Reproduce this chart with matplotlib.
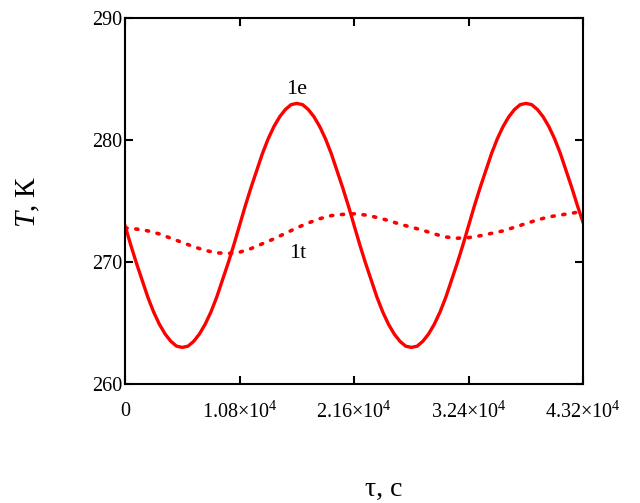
import matplotlib
matplotlib.use('Agg')
import matplotlib.pyplot as plt

plt.rcParams['font.family'] = ['Liberation Serif', 'DejaVu Serif']
plt.rcParams['mathtext.fontset'] = 'custom'
plt.rcParams['mathtext.rm'] = 'Liberation Serif'
plt.rcParams['mathtext.it'] = 'Liberation Serif:italic'

# curve 1e (solid), time step 540 s, K
tau_1e = [i * 540 for i in range(81)]
t_1e = [273.0, 271.4, 269.9, 268.5, 267.1, 265.9, 264.9, 264.1, 263.5, 263.1,
        263.0, 263.1, 263.5, 264.1, 264.9, 265.9, 267.1, 268.5, 269.9, 271.4,
        273.0, 274.6, 276.1, 277.5, 278.9, 280.1, 281.1, 281.9, 282.5, 282.9,
        283.0, 282.9, 282.5, 281.9, 281.1, 280.1, 278.9, 277.5, 276.1, 274.6,
        273.0, 271.4, 269.9, 268.5, 267.1, 265.9, 264.9, 264.1, 263.5, 263.1,
        263.0, 263.1, 263.5, 264.1, 264.9, 265.9, 267.1, 268.5, 269.9, 271.4,
        273.0, 274.6, 276.1, 277.5, 278.9, 280.1, 281.1, 281.9, 282.5, 282.9,
        283.0, 282.9, 282.5, 281.9, 281.1, 280.1, 278.9, 277.5, 276.1, 274.6,
        273.2]

# curve 1t (dotted), time step 1080 s, K
tau_1t = [i * 1080 for i in range(41)]
t_1t = [272.8, 272.7, 272.55, 272.3, 271.95, 271.6, 271.25, 270.95, 270.75, 270.7,
        270.8, 271.1, 271.5, 271.9, 272.35, 272.8, 273.2, 273.55, 273.8, 273.9,
        273.95, 273.85, 273.65, 273.4, 273.1, 272.85, 272.6, 272.3, 272.05, 271.95,
        272.0, 272.15, 272.35, 272.55, 272.85, 273.15, 273.45, 273.7, 273.85, 274.0,
        274.15]

x_ticks = [0, 10800, 21600, 32400, 43200]
x_labels = ['0', r'1.08$\times$10$^{4}$', r'2.16$\times$10$^{4}$',
            r'3.24$\times$10$^{4}$', r'4.32$\times$10$^{4}$']
y_ticks = [260, 270, 280, 290]

fig = plt.figure(figsize=(6.4, 5.03), dpi=100)
ax = fig.add_axes([0.1953, 0.2366, 0.716, 0.7276])

ax.plot(tau_1e, t_1e, color='#ff0000', linewidth=2.4, solid_capstyle='round',
        solid_joinstyle='round')
ax.plot(tau_1t, t_1t, color='#ff0000', linewidth=2.6, linestyle=(0, (0.6, 2.4)),
        dash_capstyle='round')

ax.set_xlim(0, 43200)
ax.set_ylim(260, 290)
ax.set_xticks(x_ticks)
ax.set_xticklabels(x_labels)
ax.set_yticks(y_ticks)
ax.tick_params(direction='in', length=6, width=1.5, top=True, right=True,
               labelsize=14.5)
ax.tick_params(axis='x', pad=13)
ax.tick_params(axis='y', pad=2)
for sp in ax.spines.values():
    sp.set_linewidth(1.5)

ax.text(16200, 284.1, '1e', fontsize=16, ha='center', va='center')
ax.text(16300, 270.7, '1t', fontsize=16, ha='center', va='center')

fig.text(0.044, 0.598, r'$\mathit{T}$, К', fontsize=21, rotation=90,
         ha='center', va='center')
fig.text(0.6, 0.028, 'τ, с', fontsize=20, ha='center', va='center')

fig.savefig('out.png', dpi=100)
